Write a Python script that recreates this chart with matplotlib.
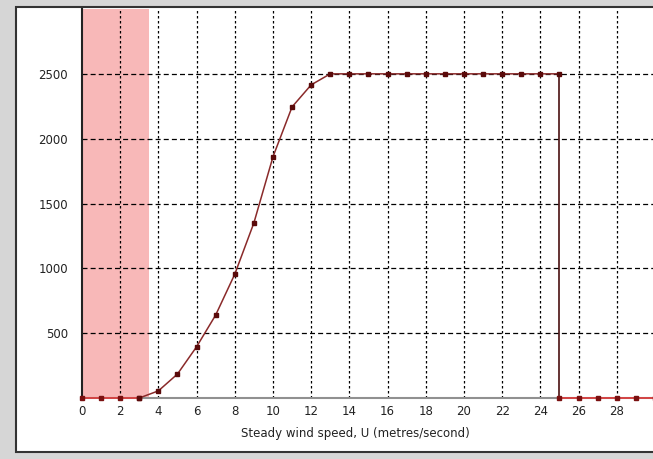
import numpy as np
import matplotlib.pyplot as plt
from matplotlib.patches import Rectangle

# Datos de la curva de potencia
cut_in_speeds = [0, 1, 2, 3]
cut_in_power = [0, 0, 0, 0]

curve_speeds = [3, 4, 5, 6, 7, 8, 9, 10, 11, 12, 13, 14, 15, 16, 17, 18,
                19, 20, 21, 22, 23, 24, 25]
curve_power = [0, 55, 185, 395, 640, 955, 1350, 1860, 2245, 2415, 2500, 2500,
               2500, 2500, 2500, 2500, 2500, 2500, 2500, 2500, 2500, 2500, 2500]

cut_out_speeds = [25, 26, 27, 28, 29, 30]
cut_out_power = [0, 0, 0, 0, 0, 0]

cut_out = 25
rated_power = 2500
shade_limit = 3.5

x_ticks = list(range(0, 30, 2))
y_ticks = [500, 1000, 1500, 2000, 2500]

W, H = 653, 459
fig = plt.figure(figsize=(W / 100, H / 100), dpi=100)
fig.patch.set_facecolor('#d6d6d6')

# Panel blanco con borde oscuro
panel = Rectangle((16 / W, (H - 452) / H), 1.0, (452 - 7) / H,
                  transform=fig.transFigure, facecolor='white',
                  edgecolor='#333333', linewidth=1.5, zorder=-10)
fig.patches.append(panel)

ax = fig.add_axes([82 / W, (H - 398) / H, (W - 82) / W, (398 - 9) / H])
ax.set_zorder(1)
ax.set_facecolor('none')
ax.set_xlim(0, 29.9)
ax.set_ylim(0, 3000)

# Zona bajo la velocidad de arranque
ax.axvspan(0, shade_limit, color='#f8b8b8', zorder=1, linewidth=0)

# Rejilla
for xv in x_ticks[1:]:
    ax.axvline(xv, color='black', linewidth=0.9, linestyle=(0, (2, 2)), zorder=2)
for yv in y_ticks:
    ax.axhline(yv, color='black', linewidth=0.9, linestyle=(0, (4, 2.5)), zorder=2)

# Ejes
for side in ['top', 'right']:
    ax.spines[side].set_visible(False)
ax.spines['left'].set_color('#222222')
ax.spines['left'].set_linewidth(1.5)
ax.spines['bottom'].set_color('#909090')
ax.spines['bottom'].set_linewidth(1.5)

# Curvas
ax.plot(cut_in_speeds, cut_in_power, color='#e03838', linewidth=1.2,
        marker='s', markersize=2.5, markerfacecolor='#7a1010',
        markeredgecolor='#7a1010', zorder=5, clip_on=False)
ax.plot(curve_speeds, curve_power, color='#8a2a2a', linewidth=1.1,
        marker='s', markersize=2.5, markerfacecolor='#5a0a0a',
        markeredgecolor='#5a0a0a', zorder=5, clip_on=False)
ax.plot([cut_out, cut_out], [rated_power, 0], color='#4a1010',
        linewidth=1.2, zorder=5)
ax.plot(cut_out_speeds, cut_out_power, color='#e03838', linewidth=1.2,
        marker='s', markersize=2.5, markerfacecolor='#7a1010',
        markeredgecolor='#7a1010', zorder=5, clip_on=False)

ax.set_xticks(x_ticks)
ax.set_yticks(y_ticks)
ax.tick_params(axis='both', length=0, labelsize=8.5, colors='#222222')
ax.tick_params(axis='y', pad=10)
ax.tick_params(axis='x', pad=5)

ax.set_xlabel('Steady wind speed, U (metres/second)', fontsize=8.5,
              color='#222222')
ax.xaxis.set_label_coords((355 - 82) / (W - 82), -0.075)

plt.savefig('out.png', dpi=100, facecolor=fig.get_facecolor())
plt.close()
